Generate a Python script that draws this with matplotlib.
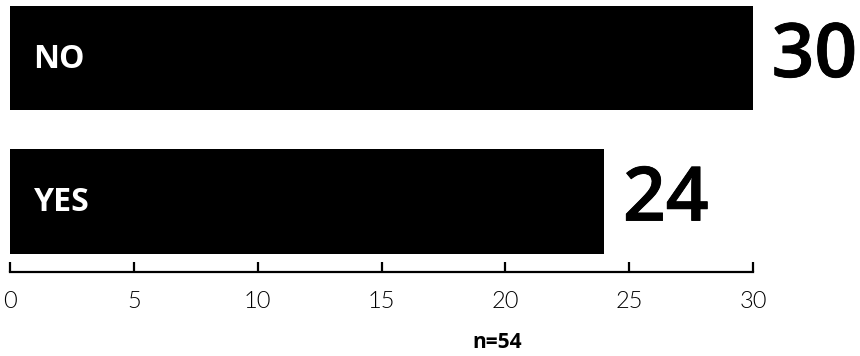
import matplotlib
matplotlib.use("Agg")
import matplotlib.pyplot as plt
import matplotlib.patheffects as pe

categories = ["YES", "NO"]
values = [24, 30]
xticks = [0, 5, 10, 15, 20, 25, 30]
note = "n=54"

fig = plt.figure(figsize=(8.6, 3.56), dpi=100)
W, H = 860, 356
ax = fig.add_axes([10 / W, (H - 272) / H, 743 / W, 272 / H])

ypos = list(range(len(categories)))
ax.barh(ypos, values, height=0.725, color="black")
ax.set_xlim(0, 30)
ax.set_ylim(-0.491, 1.404)

for y, c, v in zip(ypos, categories, values):
    ax.text(0.95, y - 0.01, c, color="white", fontsize=23, fontweight="bold",
            family="Open Sans", va="center", ha="left")
    ax.text(v + 0.75, y, str(v), color="black", fontsize=54, fontweight="semibold",
            family="Open Sans", va="center", ha="left", clip_on=False,
            path_effects=[pe.withStroke(linewidth=0.6, foreground="black")])

for s in ["top", "right", "left"]:
    ax.spines[s].set_visible(False)
ax.spines["bottom"].set_linewidth(1.6)
ax.spines["bottom"].set_color("black")
ax.set_yticks([])
ax.set_xticks(xticks)
ax.set_xticklabels([str(t) for t in xticks], family="Lato", fontweight=300, fontsize=17)
ax.tick_params(axis="x", direction="in", length=7, width=1.6, pad=14, colors="black")

fig.text(497 / W, 1 - 343 / H, note, ha="center", va="center", fontsize=15,
         fontweight="bold", family="Open Sans")

fig.savefig("out.png", dpi=100, facecolor="white")
